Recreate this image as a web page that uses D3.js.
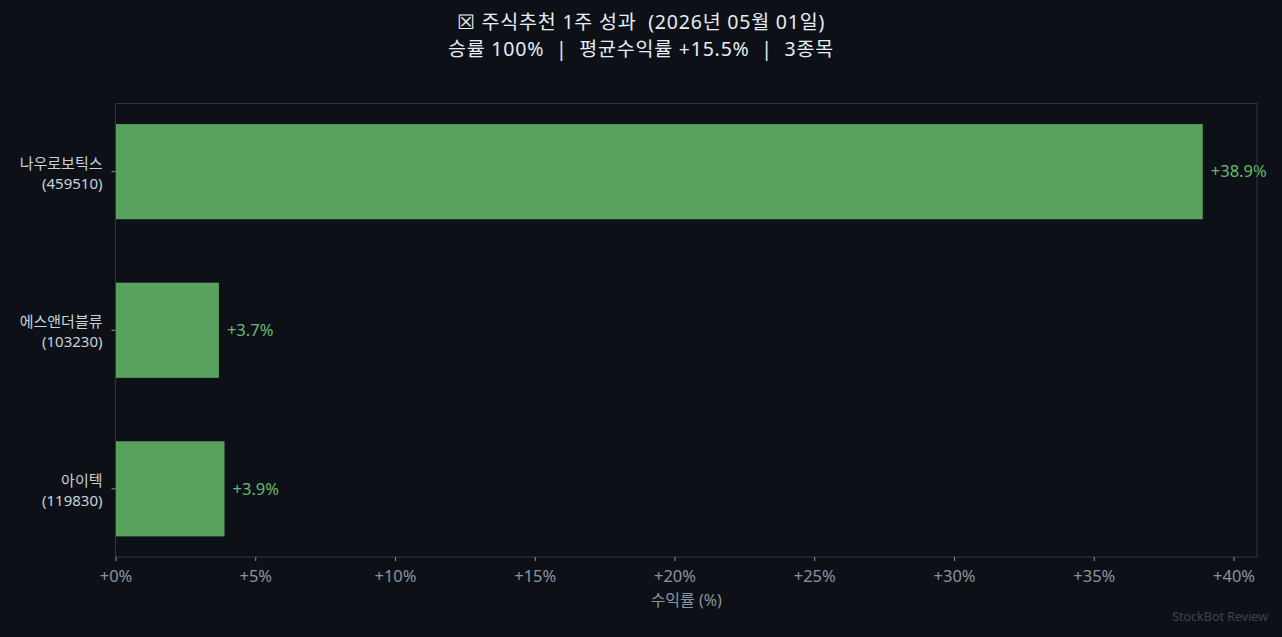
<!DOCTYPE html>
<html>
<head>
<meta charset="utf-8">
<script src="https://cdn.jsdelivr.net/npm/d3@7"></script>
<style>
  html, body { margin: 0; padding: 0; background: #0d1117; }
  svg { display: block; font-family: "Noto Sans", "Noto Sans CJK KR", sans-serif; }
  text { white-space: pre; }
</style>
</head>
<body>
<svg id="chart" width="1282" height="637"></svg>
<script>
"use strict";

// chart data
const names   = ["나우로보틱스", "에스앤더블류", "아이텍"];
const codes   = ["459510", "103230", "119830"];
const returns = [38.9, 3.7, 3.9];
const xTicks  = [0, 5, 10, 15, 20, 25, 30, 35, 40];

const titleLine1 = "\u2612 주식추천 1주 성과  (2026년 05월 01일)";
const titleLine2 = "승률 100%  |  평균수익률 +15.5%  |  3종목";

const W = 1282, H = 637;
const margin = { left: 115.5, right: 1257, top: 103.5, bottom: 557 };

const svg = d3.select("#chart");

svg.append("rect")
    .attr("width", W).attr("height", H)
    .attr("fill", "#0d1117");

/* scales */
const xScale = d3.scaleLinear()
    .domain([0, 40.84])
    .range([margin.left, margin.right]);

// matplotlib style categorical y: bars at 0,1,2 with height .6 and 5% margins
const yScale = d3.scaleLinear()
    .domain([-0.43, 2.43])
    .range([margin.top, margin.bottom]);

const barHalf = 0.3;

/* bars */
svg.append("g")
    .selectAll("rect")
    .data(returns)
    .enter().append("rect")
    .attr("x", xScale(0))
    .attr("y", (d, i) => yScale(i - barHalf))
    .attr("width", (d) => xScale(d) - xScale(0))
    .attr("height", (d, i) => yScale(i + barHalf) - yScale(i - barHalf))
    .attr("fill", "#59a25d");

/* value labels */
svg.append("g")
    .selectAll("text")
    .data(returns)
    .enter().append("text")
    .attr("x", (d) => xScale(d) + 8)
    .attr("y", (d, i) => yScale(i))
    .attr("dy", "0.35em")
    .attr("font-size", 16.5)
    .attr("fill", "#66bb6a")
    .text((d) => "+" + d.toFixed(1) + "%");

/* frame */
svg.append("rect")
    .attr("x", margin.left)
    .attr("y", margin.top)
    .attr("width", margin.right - margin.left)
    .attr("height", margin.bottom - margin.top)
    .attr("fill", "none")
    .attr("stroke", "#30363d")
    .attr("stroke-width", 1);

/* x axis */
const xAxis = svg.append("g")
    .attr("transform", "translate(0," + margin.bottom + ")")
    .call(d3.axisBottom(xScale)
        .tickValues(xTicks)
        .tickSize(4)
        .tickPadding(9)
        .tickFormat((d) => "+" + d + "%"));
xAxis.select(".domain").remove();
xAxis.selectAll("line").attr("stroke", "#8b949e");
xAxis.selectAll("text")
    .attr("fill", "#8b949e")
    .attr("font-size", 16.5)
    .attr("font-family", "\"Noto Sans\", \"Noto Sans CJK KR\", sans-serif");

/* y labels */
const yLabels = svg.append("g");
names.forEach((n, i) => {
  let yc = yScale(i);
  yLabels.append("line")
      .attr("x1", margin.left - 4).attr("x2", margin.left)
      .attr("y1", yc).attr("y2", yc)
      .attr("stroke", "#8b949e");
  let t = yLabels.append("text")
      .attr("text-anchor", "end")
      .attr("font-size", 15)
      .attr("fill", "#c9d1d9");
  t.append("tspan").attr("x", margin.left - 13).attr("y", yc - 3).text(n);
  t.append("tspan").attr("x", margin.left - 13).attr("y", yc + 17).text("(" + codes[i] + ")");
});

/* x axis title */
svg.append("text")
    .attr("x", (margin.left + margin.right) / 2)
    .attr("y", 606)
    .attr("text-anchor", "middle")
    .attr("font-size", 16)
    .attr("fill", "#8b949e")
    .text("수익률 (%)");

/* title */
svg.append("text")
    .attr("x", W / 2).attr("y", 29)
    .attr("text-anchor", "middle")
    .attr("font-size", 19.5)
    .attr("letter-spacing", 0.8)
    .attr("fill", "#e6edf3")
    .text(titleLine1);
svg.append("text")
    .attr("x", W / 2).attr("y", 56)
    .attr("text-anchor", "middle")
    .attr("font-size", 19.5)
    .attr("letter-spacing", 0.8)
    .attr("fill", "#e6edf3")
    .text(titleLine2);

/* watermark */
svg.append("text")
    .attr("x", 1268).attr("y", 621)
    .attr("text-anchor", "end")
    .attr("font-size", 12.5)
    .attr("fill", "#3d444d")
    .text("StockBot Review");
</script>
</body>
</html>
